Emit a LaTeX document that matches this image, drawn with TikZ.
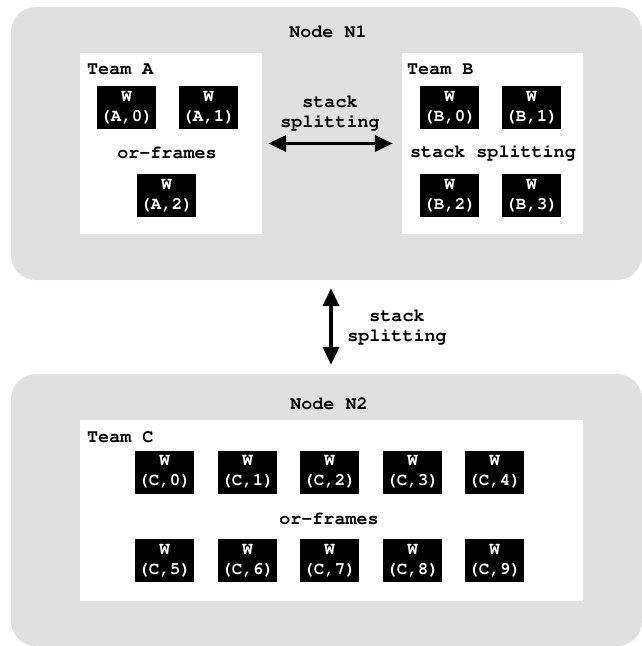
\documentclass[tikz,border=0pt]{standalone}
\usepackage[T1]{fontenc}
\usepackage{courier}
\usetikzlibrary{arrows.meta}
\definecolor{panelgray}{RGB}{224,224,224}
\begin{document}
\begin{tikzpicture}[x=1pt,y=-1pt,
  panel/.style={fill=panelgray, rounded corners=25pt, minimum width=631pt, inner sep=0pt, draw=none},
  teambox/.style={fill=white, draw=none, inner sep=0pt},
  worker/.style={fill=black, text=white, minimum width=59pt, minimum height=43pt, inner sep=0pt, align=center,
     font=\ttfamily\bfseries\fontsize{17.5}{20}\selectfont},
  lbl/.style={inner sep=0pt, font=\ttfamily\bfseries\fontsize{18.4}{20}\selectfont, align=center},
  arr/.style={line width=3.5pt, {Triangle[length=18pt,width=16pt]}-{Triangle[length=18pt,width=16pt]}}
]
\useasboundingbox (0,0) rectangle (642,646);
% panels
\node[panel, minimum height=273pt] (n1) at (326.5,143.5) {};
\node[panel, minimum height=272pt] (n2) at (326.5,510) {};
\node[lbl] (n1lbl) at (328,32) {Node N1};
\node[lbl] (n2lbl) at (329,404) {Node N2};
% team boxes
\node[teambox, minimum width=182pt, minimum height=181pt] (teamA) at (171,143.5) {};
\node[teambox, minimum width=181pt, minimum height=181pt] (teamB) at (492.5,143.5) {};
\node[teambox, minimum width=503pt, minimum height=181pt] (teamC) at (331.5,510.5) {};
\node[lbl, anchor=west] (tA) at (87,70) {Team A};
\node[lbl, anchor=west] (tB) at (407,70) {Team B};
\node[lbl, anchor=west] (tC) at (87,437) {Team C};
% team A
\node[worker] (A0) at (126.5,107.5) {W\\(A,0)};
\node[worker] (A1) at (208.5,107.5) {W\\(A,1)};
\node[lbl] (orA) at (167,153) {or-frames};
\node[worker] (A2) at (166.5,195.5) {W\\(A,2)};
% team B
\node[worker] (B0) at (449.5,107.5) {W\\(B,0)};
\node[worker] (B1) at (531.5,107.5) {W\\(B,1)};
\node[lbl] (ssB) at (493,153) {stack splitting};
\node[worker] (B2) at (449.5,195.5) {W\\(B,2)};
\node[worker] (B3) at (531.5,195.5) {W\\(B,3)};
% team C
\foreach \i/\x in {0/164.5,1/247.5,2/329.5,3/412.5,4/494.5}{
  \node[worker] (C\i) at (\x,472) {W\\(C,\i)};
}
\node[lbl] (orC) at (329,519) {or-frames};
\foreach \i/\x in {5/164.5,6/247.5,7/329.5,8/412.5,9/494.5}{
  \node[worker] (C\i) at (\x,560.5) {W\\(C,\i)};
}
% arrows
\draw[arr, shorten <=6pt, shorten >=9pt] (teamA) -- (teamB);
\node[lbl] (hss) at (330,113) {stack\\splitting};
\draw[arr, shorten <=8pt, shorten >=9pt] ([xshift=4.5pt]n1.south) -- ([xshift=4.5pt]n2.north);
\node[lbl] (vss) at (397,327) {stack\\splitting};
\end{tikzpicture}
\end{document}
